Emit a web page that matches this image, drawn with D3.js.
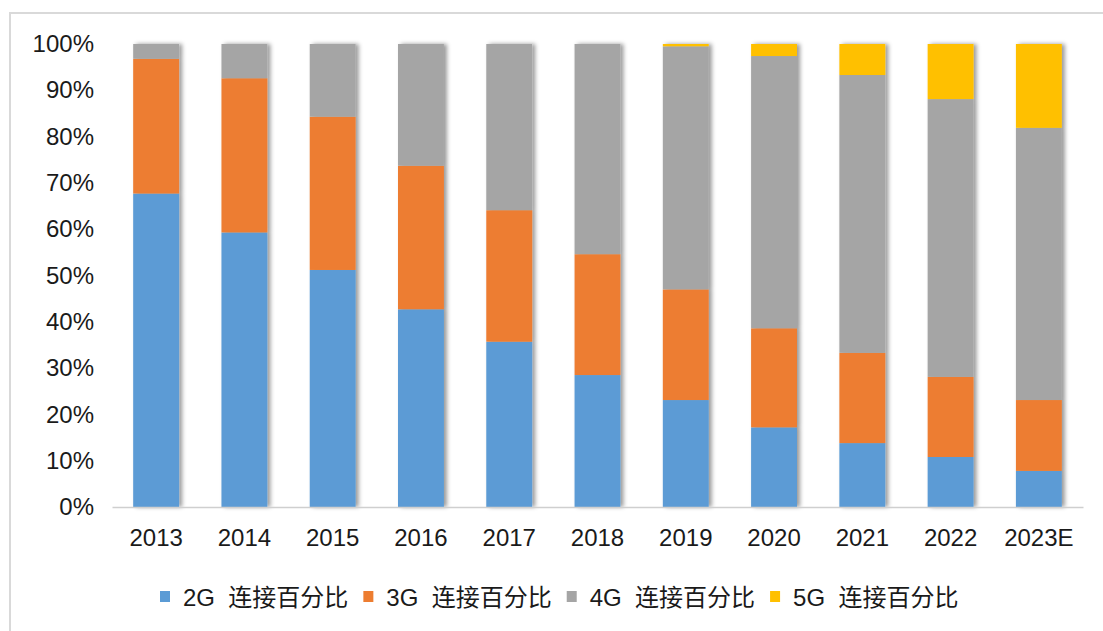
<!DOCTYPE html>
<html>
<head>
<meta charset="utf-8">
<script src="https://cdn.jsdelivr.net/npm/d3@7"></script>
<style>
  body { margin: 0; background: #fff; }
  #chart { width: 1103px; height: 631px; }
  text { font-family: "Liberation Sans", Arial, "Noto Sans CJK SC", sans-serif; fill: #1a1a1a; }
</style>
</head>
<body>
<div id="chart"></div>
<script>
// data (percent of connections)
const years = ["2013","2014","2015","2016","2017","2018","2019","2020","2021","2022","2023E"];
const g2 = [67.7, 59.3, 51.2, 42.7, 35.7, 28.5, 23.1, 17.2, 13.8, 10.8, 7.8];
const g3 = [29.1, 33.3, 33.1, 31.0, 28.4, 26.1, 23.9, 21.4, 19.5, 17.3, 15.3];
const g4 = [3.2, 7.4, 15.7, 26.3, 35.9, 45.4, 52.5, 58.8, 60.0, 60.0, 58.8];
const g5 = [0, 0, 0, 0, 0, 0, 0.5, 2.6, 6.7, 11.9, 18.1];
const seriesKeys = ["g2", "g3", "g4", "g5"];
const seriesLabels = ["2G  连接百分比", "3G  连接百分比", "4G  连接百分比", "5G  连接百分比"];
const yTicks = [0, 10, 20, 30, 40, 50, 60, 70, 80, 90, 100];

const width = 1103, height = 631;
const margin = { top: 44, left: 112, right: 20, bottom: 124 };

const svg = d3.select("#chart").append("svg")
  .attr("width", width)
  .attr("height", height);

// outer frame
svg.append("rect")
  .attr("x", 10).attr("y", 13)
  .attr("width", width + 20).attr("height", height + 20)
  .attr("fill", "none")
  .attr("stroke", "#d9d9d9")
  .attr("stroke-width", 2);

// soft shadow on bars
const defs = svg.append("defs");
defs.append("filter").attr("id", "shadow")
  .attr("x", "-20%").attr("y", "-5%").attr("width", "150%").attr("height", "110%")
  .append("feDropShadow")
  .attr("dx", 3).attr("dy", 0).attr("stdDeviation", 2)
  .attr("flood-color", "#000").attr("flood-opacity", 0.4);

const table = years.map((y, i) => ({ year: y, g2: g2[i], g3: g3[i], g4: g4[i], g5: g5[i] }));
const stacked = d3.stack().keys(seriesKeys)(table);

const xScale = d3.scaleBand()
  .domain(years)
  .range([margin.left, 1083])
  .paddingInner(0.48)
  .paddingOuter(0.24);

const yScale = d3.scaleLinear()
  .domain([0, 100])
  .range([height - margin.bottom, margin.top]);

const colorScale = d3.scaleOrdinal()
  .domain(seriesKeys)
  .range(["#5b9bd5", "#ed7d31", "#a5a5a5", "#ffc000"]);

// bars
const barGroup = svg.append("g");
years.forEach(function(yr, i) {
  const col = barGroup.append("g").attr("filter", "url(#shadow)");
  stacked.forEach(function(s) {
    const d = s[i];
    if (d[1] - d[0] <= 0) return;
    col.append("rect")
      .attr("x", xScale(yr))
      .attr("y", yScale(d[1]))
      .attr("width", xScale.bandwidth())
      .attr("height", yScale(d[0]) - yScale(d[1]))
      .attr("fill", colorScale(s.key));
  });
});

// x axis
const xAxis = svg.append("g")
  .attr("transform", `translate(0,${yScale(0)})`)
  .call(d3.axisBottom(xScale).tickSize(0).tickPadding(22));
xAxis.select(".domain").attr("stroke", "#cfcfcf").attr("stroke-width", 1.5);
xAxis.selectAll("text").attr("font-size", 24).attr("fill", "#1a1a1a")
  .attr("font-family", "'Liberation Sans', Arial, sans-serif");

// y axis
const yAxis = svg.append("g")
  .attr("transform", `translate(94,0)`)
  .call(d3.axisLeft(yScale).tickValues(yTicks).tickFormat(d => d + "%").tickSize(0).tickPadding(0));
yAxis.select(".domain").remove();
yAxis.selectAll("text").attr("font-size", 24).attr("fill", "#1a1a1a")
  .attr("font-family", "'Liberation Sans', Arial, sans-serif");

// legend
const legend = svg.append("g").attr("transform", "translate(0,606)");
let lx = 160;
seriesKeys.forEach(function(k, i) {
  legend.append("rect")
    .attr("x", lx).attr("y", -15)
    .attr("width", 10).attr("height", 11)
    .attr("fill", colorScale(k));
  const t = legend.append("text")
    .attr("x", lx + 23)
    .attr("y", 0)
    .attr("font-size", 24)
    .attr("xml:space", "preserve")
    .style("white-space", "pre")
    .text(seriesLabels[i]);
  lx = lx + 23 + t.node().getComputedTextLength() + 15;
});
</script>
</body>
</html>
